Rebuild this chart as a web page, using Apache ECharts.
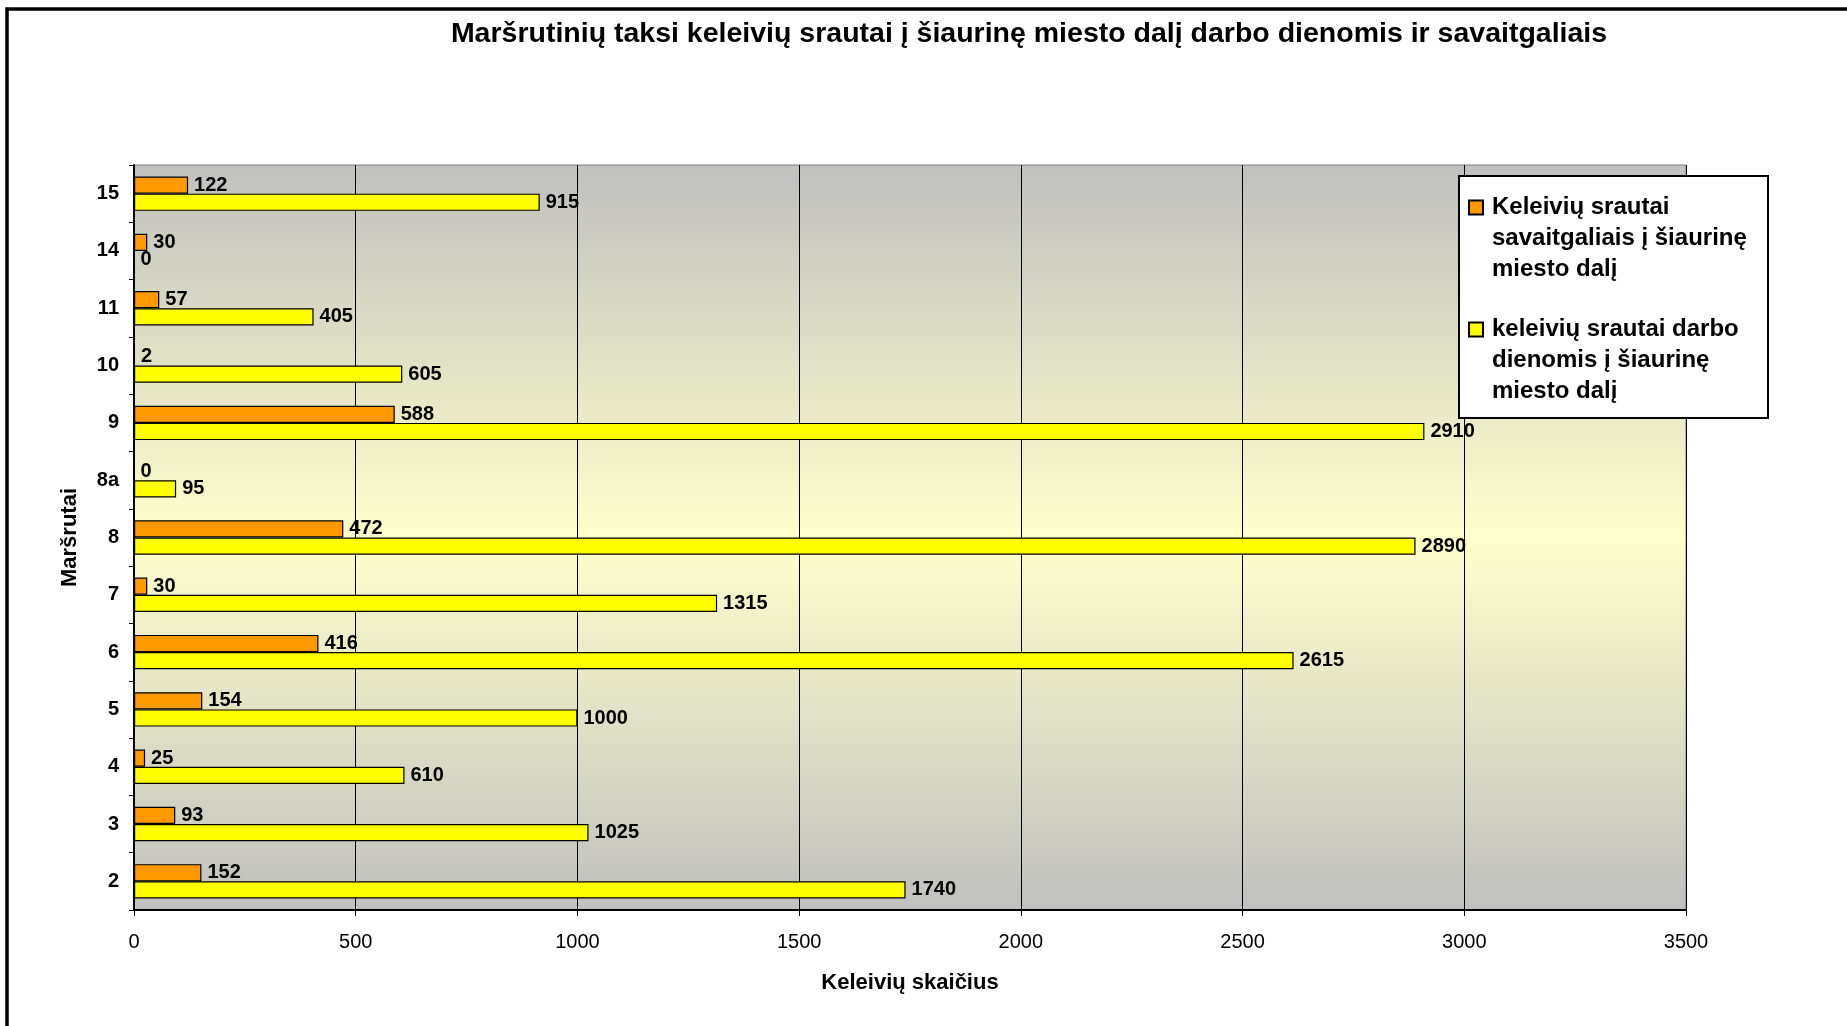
<!DOCTYPE html>
<html><head><meta charset="utf-8">
<script src="https://cdn.jsdelivr.net/npm/echarts@6/dist/echarts.min.js"></script>
<style>html,body{margin:0;padding:0;background:#fff}#c{width:1847px;height:1026px}</style>
</head><body><div id="c"></div>
<script>
const routes = ['2', '3', '4', '5', '6', '7', '8', '8a', '9', '10', '11', '14', '15'];
const weekendValues = [152, 93, 25, 154, 416, 30, 472, 0, 588, 2, 57, 30, 122];
const weekdayValues = [1740, 1025, 610, 1000, 2615, 1315, 2890, 95, 2910, 605, 405, 0, 915];
const xMin = 0, xMax = 3500, xStep = 500;
const weekendName = 'Keleivių srautai savaitgaliais į šiaurinę miesto dalį';
const weekdayName = 'keleivių srautai darbo dienomis į šiaurinę miesto dalį';
const legendText = {};
legendText[weekendName] = 'Keleivių srautai\nsavaitgaliais į šiaurinę\nmiesto dalį';
legendText[weekdayName] = 'keleivių srautai darbo\ndienomis į šiaurinę\nmiesto dalį';
const titleText = 'Maršrutinių taksi keleivių srautai į šiaurinę miesto dalį darbo dienomis ir savaitgaliais';

const FONT = '"Liberation Sans", Arial, sans-serif';
const chart = echarts.init(document.getElementById('c'), null, {renderer: 'canvas'});
const labelCfg = {show: true, position: 'right', distance: 6, color: '#000', fontFamily: FONT, fontWeight: 'bold', fontSize: 20};
chart.setOption({
  animation: false,
  backgroundColor: '#fff',
  title: {
    text: titleText, left: 1029, top: 20, padding: 0, textAlign: 'center',
    textStyle: {fontFamily: FONT, fontWeight: 'bold', fontSize: 28.5, color: '#000'}
  },
  graphic: [
    {type: 'rect', z: 100, shape: {x: 7, y: 9, width: 3000, height: 3000}, style: {fill: 'none', stroke: '#000', lineWidth: 3.5}, silent: true},
    {type: 'rect', z: 100, shape: {x: 1459, y: 176, width: 309, height: 242}, style: {fill: '#fff', stroke: '#000', lineWidth: 2}, silent: true}
  ],
  legend: {
    z: 120,
    orient: 'vertical', left: 1468, top: 191, padding: 0,
    itemGap: 27, itemWidth: 18, itemHeight: 93,
    icon: 'path://M0,0L0,0M18,93L18,93M0,8.5L14,8.5L14,22.5L0,22.5Z',
    data: [weekendName, weekdayName],
    formatter: n => legendText[n],
    textStyle: {fontFamily: FONT, fontWeight: 'bold', fontSize: 24, lineHeight: 31, color: '#000'}
  },
  grid: {
    left: 134, right: 161, top: 165, bottom: 116, show: true,
    borderColor: '#808080', borderWidth: 1,
    backgroundColor: {type: 'linear', x: 0, y: 0, x2: 0, y2: 1, colorStops: [
      {offset: 0, color: '#c0c0c0'}, {offset: 0.5, color: '#ffffcc'}, {offset: 1, color: '#c0c0c0'}]}
  },
  xAxis: {
    type: 'value', min: xMin, max: xMax, interval: xStep,
    name: 'Keleivių skaičius', nameLocation: 'middle', nameGap: 62,
    nameTextStyle: {fontFamily: FONT, fontWeight: 'bold', fontSize: 22, color: '#000'},
    axisLine: {show: true, onZero: false, lineStyle: {color: '#000', width: 2}},
    axisTick: {show: true, length: 6, lineStyle: {color: '#000', width: 1}},
    axisLabel: {fontFamily: FONT, fontSize: 20, color: '#000', margin: 22, formatter: v => String(v)},
    splitLine: {show: true, lineStyle: {color: '#000', width: 1}}
  },
  yAxis: {
    type: 'category', data: routes,
    name: 'Maršrutai', nameLocation: 'middle', nameGap: 53, nameRotate: 90,
    nameTextStyle: {fontFamily: FONT, fontWeight: 'bold', fontSize: 22, color: '#000'},
    axisLine: {show: true, lineStyle: {color: '#000', width: 2}},
    axisTick: {show: true, length: 5, lineStyle: {color: '#000', width: 1}},
    axisLabel: {fontFamily: FONT, fontWeight: 'bold', fontSize: 20, color: '#000', margin: 15},
    splitLine: {show: false}
  },
  series: [
    {name: weekendName, type: 'bar', data: weekendValues, barCategoryGap: '40%', barGap: '0%',
     itemStyle: {color: '#ff9900', borderColor: '#000', borderWidth: 1.2}, label: labelCfg},
    {name: weekdayName, type: 'bar', data: weekdayValues, barCategoryGap: '40%', barGap: '0%',
     itemStyle: {color: '#ffff00', borderColor: '#000', borderWidth: 1.2}, label: labelCfg}
  ]
});
</script></body></html>
